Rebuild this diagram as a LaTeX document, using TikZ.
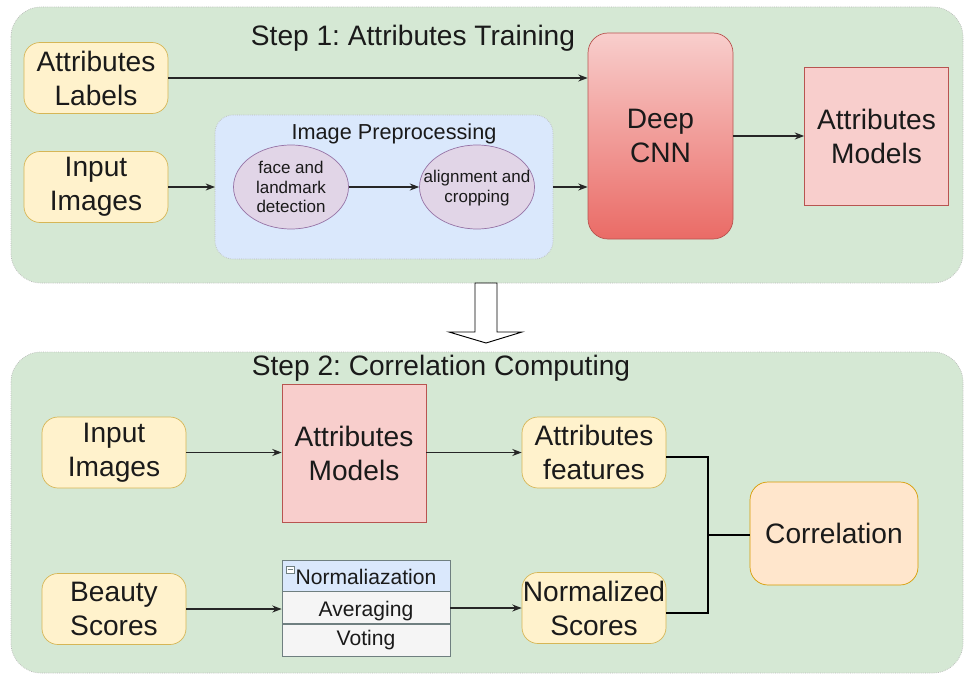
\documentclass[tikz,border=0pt]{standalone}
\usepackage{fontspec}
\setmainfont{Liberation Sans}
\usetikzlibrary{arrows.meta,shapes.geometric,calc}

\newlength\pu
\setlength\pu{0.03cm}

\definecolor{grpgreen}{HTML}{D5E8D4}
\definecolor{grpblue}{HTML}{DAE8FC}
\definecolor{inyellow}{HTML}{FFF2CC}
\definecolor{inyellowline}{HTML}{D6B656}
\definecolor{modred}{HTML}{F8CECC}
\definecolor{modredline}{HTML}{B85450}
\definecolor{cnnbottom}{HTML}{EA6B66}
\definecolor{cnntop}{HTML}{F8CECC}
\definecolor{procpurple}{HTML}{E1D5E7}
\definecolor{procpurpleline}{HTML}{9673A6}
\definecolor{corrorange}{HTML}{FFE6CC}
\definecolor{corrline}{HTML}{D79B00}
\definecolor{rowgray}{HTML}{F5F5F5}
\definecolor{rowline}{HTML}{6F7F80}
\definecolor{txt}{HTML}{1A1A1A}

\tikzset{
  bigtext/.style={font=\fontsize{24}{29}\selectfont, text=txt, align=center},
  group/.style={draw=gray!55, densely dotted, line width=0.6pt, fill=grpgreen, rounded corners=30\pu},
  subgroup/.style={draw=gray!55, densely dotted, line width=0.6pt, fill=grpblue, rounded corners=18\pu},
  inbox/.style={bigtext, draw=inyellowline, fill=inyellow, rounded corners=16\pu,
    minimum width=144\pu, minimum height=71\pu, inner sep=0pt, line width=0.6pt},
  modelbox/.style={bigtext, draw=modredline, fill=modred, minimum width=144\pu,
    minimum height=138\pu, inner sep=0pt, line width=0.6pt},
  procell/.style={draw=procpurpleline, fill=procpurple, ellipse, minimum width=115\pu,
    minimum height=84\pu, inner sep=0pt, line width=0.6pt},
  proctext/.style={align=center, text=txt, font=\fontsize{14.5}{16.5}\selectfont, inner sep=0pt},
  rowcell/.style={draw=rowline, fill=rowgray, minimum width=168\pu, minimum height=32\pu,
    inner sep=0pt, text=txt, font=\fontsize{18}{20}\selectfont, line width=0.6pt},
  flow/.style={-{Stealth[length=8pt,width=6pt]}, line width=1pt, draw=black!85},
  joinline/.style={line width=1.6pt, draw=black},
}

\begin{document}
\frenchspacing
\begin{tikzpicture}[x=0.03cm, y=-0.03cm]
\useasboundingbox (0,0) rectangle (965,677);

% ---- Step 1 ----
\draw[group] (11,7) rectangle (963,283);
\node[bigtext] (t1) at (413,38) {Step 1: Attributes Training};

\node[inbox] (lab) at (96,78) {Attributes\\Labels};
\node[inbox] (img1) at (96,187) {Input\\Images};

\draw[subgroup] (215,115) rectangle (553,259);
\node[text=txt, font=\fontsize{18.5}{20}\selectfont] (pre) at (394,134) {Image Preprocessing};
\node[procell] (face) at (291,187) {};
\node[proctext] (facetxt) at (face.center) {face and\\landmark\\detection};
\node[procell] (align) at (477,187) {};
\node[proctext] (aligntxt) at ($(align.center)+(0,1)$) {alignment and\\cropping};
\coordinate (preL) at (215,187);
\coordinate (preR) at (553,187);

\node[bigtext, draw=modredline, top color=cnntop, bottom color=cnnbottom,
  rounded corners=20\pu, minimum width=145\pu, minimum height=206\pu,
  inner sep=0pt, line width=0.6pt] (cnn) at (660.5,136) {Deep\\CNN};

\node[modelbox] (mod1) at (876.5,136) {Attributes\\Models};

\draw[flow] (lab.east) -- (lab.east -| cnn.west);
\draw[flow] (img1.east) -- (preL);
\draw[flow] (face.east) -- (align.west);
\draw[flow] (preR) -- (preR -| cnn.west);
\draw[flow] (cnn.east |- mod1.west) -- (mod1.west);

% ---- hollow arrow between the steps ----
\draw[fill=white, line width=0.8pt, line join=miter]
  (475,283) -- (497,283) -- (497,332) -- (522,332) -- (486,343)
  -- (449,332) -- (475,332) -- cycle;

% ---- Step 2 ----
\draw[group] (11,352) rectangle (963,673);
\node[bigtext] (t2) at (441,368) {Step 2: Correlation Computing};

\node[inbox] (img2) at (114,452.5) {Input\\Images};
\node[modelbox] (mod2) at (354,453) {Attributes\\Models};
\node[inbox] (feat) at (594,452.5) {Attributes\\features};
\node[inbox] (beauty) at (114,609) {Beauty\\Scores};
\node[inbox] (norm) at (594,608) {Normalized\\Scores};

\node[bigtext, draw=corrline, fill=corrorange, rounded corners=18\pu,
  minimum width=168\pu, minimum height=103\pu, inner sep=0pt, line width=0.6pt]
  (corr) at (834,533.5) {Correlation};

\node[rowcell, fill=grpblue] (rnorm) at (366,576.5) {Normaliazation};
\node[rowcell, anchor=south] (ravg) at (366,624) {};
\node[text=txt, font=\fontsize{18}{20}\selectfont, inner sep=0pt] (avgtxt) at ($(ravg.center)+(0,3)$) {Averaging};
\node[rowcell] (rvote) at (366,640.5) {Voting};
\draw[rowline, fill=white, line width=0.5pt] (286,566) rectangle (294,573);
\draw[rowline, line width=0.6pt] (287.5,569.5) -- (292.5,569.5);

\draw[flow] (img2.east) -- (img2.east -| mod2.west);
\draw[flow] (mod2.east |- feat.west) -- (feat.west);
\draw[flow] (beauty.east) -- (beauty.east -| ravg.west);
\draw[flow] (ravg.east |- norm.west) -- (norm.west);

\coordinate (jn) at (708,535);
\draw[joinline] ($(feat.east)+(0,4.5)$) -| (jn) -- (jn -| corr.west);
\draw[joinline] ($(norm.east)+(0,5)$) -| (jn);
\end{tikzpicture}
\end{document}
